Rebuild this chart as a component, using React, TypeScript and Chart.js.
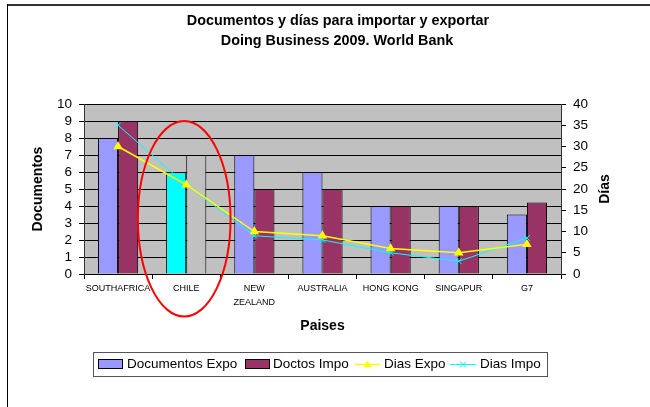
import React, { useEffect, useRef } from "react";
import { Chart, registerables } from "chart.js";

Chart.register(...registerables);

const FONT = "'Liberation Sans', Arial, Helvetica, sans-serif";

const titleLines = ["Documentos y días para importar y exportar", "Doing Business 2009. World Bank"];
const categories: (string | string[])[] = ["SOUTHAFRICA", "CHILE", ["NEW", "ZEALAND"], "AUSTRALIA", "HONG KONG", "SINGAPUR", "G7"];
const docsExpo = [8, 6, 7, 6, 4, 4, 3.5];
const docsImpo = [9, 7, 5, 5, 4, 4, 4.2];
const diasExpo = [30, 21, 10, 9, 6, 5, 7];
const diasImpo = [35, 21, 9, 8, 5, 3, 8.5];
const seriesNames = ["Documentos Expo", "Doctos Impo", "Dias Expo", "Dias Impo"];
const expoColors = ["#9999FF", "#00FFFF", "#9999FF", "#9999FF", "#9999FF", "#9999FF", "#9999FF"];
const impoColors = ["#993366", "#C0C0C0", "#993366", "#993366", "#993366", "#993366", "#993366"];
const xTitle = "Paises";
const yLeftTitle = "Documentos";
const yRightTitle = "Días";

const decor = {
  id: "decor",
  beforeDraw(chart: any) {
    const { ctx, chartArea: a, width, height } = chart;
    ctx.save();
    ctx.fillStyle = "#ffffff";
    ctx.fillRect(0, 0, width, height);
    ctx.fillStyle = "#C0C0C0";
    ctx.fillRect(a.left, a.top, a.right - a.left, a.bottom - a.top);
    // outer frame
    ctx.fillStyle = "#333333";
    ctx.fillRect(7, 4, width - 7, 2);
    ctx.fillStyle = "#000000";
    ctx.fillRect(7, 4, 1, height - 4);
    // title
    ctx.fillStyle = "#000";
    ctx.font = `bold 14.4px ${FONT}`;
    ctx.textAlign = "center";
    ctx.textBaseline = "middle";
    ctx.fillText(titleLines[0], 338, 21);
    ctx.fillText(titleLines[1], 337, 41);
    ctx.restore();
  },
  afterDatasetsDraw(chart: any) {
    const { ctx, scales } = chart;
    const x = scales.x;
    const y = scales.y;
    const cx = x.getPixelForValue(1) - 2;
    const top = y.getPixelForValue(9);
    const bottom = y.getPixelForValue(-2.5);
    const rx = 0.68 * (x.getPixelForValue(1) - x.getPixelForValue(0));
    ctx.save();
    ctx.strokeStyle = "#FF0000";
    ctx.lineWidth = 2;
    ctx.beginPath();
    ctx.ellipse(cx, (top + bottom) / 2, rx, (bottom - top) / 2, 0, 0, Math.PI * 2);
    ctx.stroke();
    ctx.restore();
  },
  afterDraw(chart: any) {
    const { ctx } = chart;
    const a = chart.chartArea;
    ctx.save();
    // right axis title
    ctx.fillStyle = "#000";
    ctx.font = `bold 14px ${FONT}`;
    ctx.textAlign = "center";
    ctx.textBaseline = "middle";
    ctx.translate(605, (a.top + a.bottom) / 2);
    ctx.rotate(-Math.PI / 2);
    ctx.fillText(yRightTitle, 0, 0);
    ctx.restore();

    // legend
    ctx.save();
    ctx.strokeStyle = "#555";
    ctx.lineWidth = 1;
    ctx.strokeRect(93.5, 352.5, 454, 24);
    const cy = 364.5;
    const starts = [98, 245, 355, 450];
    ctx.font = `13.5px ${FONT}`;
    ctx.textBaseline = "middle";
    ctx.textAlign = "left";
    // bar swatches
    [["#9999FF", 0], ["#993366", 1]].forEach(([c, i]: any) => {
      ctx.fillStyle = c;
      ctx.fillRect(starts[i], 359, 25, 10);
      ctx.strokeStyle = "#000";
      ctx.strokeRect(starts[i] + 0.5, 359.5, 24, 9);
    });
    // line swatches
    ctx.strokeStyle = "#FFFF00";
    ctx.lineWidth = 1.5;
    ctx.beginPath();
    ctx.moveTo(starts[2], cy);
    ctx.lineTo(starts[2] + 25, cy);
    ctx.stroke();
    ctx.fillStyle = "#FFFF00";
    ctx.beginPath();
    const tx = starts[2] + 12.5;
    ctx.moveTo(tx, cy - 4);
    ctx.lineTo(tx + 4, cy + 3);
    ctx.lineTo(tx - 4, cy + 3);
    ctx.closePath();
    ctx.fill();
    ctx.strokeStyle = "#00FFFF";
    ctx.lineWidth = 1;
    ctx.beginPath();
    ctx.moveTo(starts[3], cy);
    ctx.lineTo(starts[3] + 26, cy);
    const kx = starts[3] + 13;
    ctx.moveTo(kx - 3, cy - 3);
    ctx.lineTo(kx + 3, cy + 3);
    ctx.moveTo(kx + 3, cy - 3);
    ctx.lineTo(kx - 3, cy + 3);
    ctx.stroke();
    ctx.fillStyle = "#000";
    const textX = [127, 273, 384, 480];
    seriesNames.forEach((n, i) => ctx.fillText(n, textX[i], cy));
    ctx.restore();
  },
};

export default function App() {
  const ref = useRef<HTMLCanvasElement>(null);
  useEffect(() => {
    if (!ref.current) return;
    const chart = new Chart(ref.current, {
      type: "bar",
      data: {
        labels: categories,
        datasets: [
          {
            type: "line",
            label: seriesNames[2],
            data: diasExpo,
            yAxisID: "y1",
            borderColor: "#FFFF00",
            backgroundColor: "#FFFF00",
            borderWidth: 1.5,
            pointStyle: "triangle",
            pointRadius: 4,
            pointBackgroundColor: "#FFFF00",
            pointBorderColor: "#FFFF00",
            tension: 0,
            order: 0,
          } as any,
          {
            type: "line",
            label: seriesNames[3],
            data: diasImpo,
            yAxisID: "y1",
            borderColor: "#00FFFF",
            backgroundColor: "#00FFFF",
            borderWidth: 1,
            pointStyle: "crossRot",
            pointRadius: 4,
            pointBorderColor: "#00FFFF",
            pointBorderWidth: 1,
            tension: 0,
            order: 1,
          } as any,
          {
            type: "bar",
            label: seriesNames[0],
            data: docsExpo,
            yAxisID: "y",
            backgroundColor: expoColors,
            borderColor: "#000",
            borderWidth: 1,
            barPercentage: 1,
            categoryPercentage: 0.59,
            order: 2,
          } as any,
          {
            type: "bar",
            label: seriesNames[1],
            data: docsImpo,
            yAxisID: "y",
            backgroundColor: impoColors,
            borderColor: "#000",
            borderWidth: 1,
            barPercentage: 1,
            categoryPercentage: 0.59,
            order: 2,
          } as any,
        ],
      },
      options: {
        responsive: false,
        animation: false,
        layout: { padding: { left: 30, right: 0, top: 104, bottom: 60 } },
        plugins: { legend: { display: false }, tooltip: { enabled: false }, title: { display: false } },
        scales: {
          x: {
            type: "category",
            offset: true,
            grid: { offset: true, drawOnChartArea: false, drawTicks: true, tickLength: 5, color: "#000" },
            border: { display: true, color: "#000" },
            ticks: {
              font: { size: 9, family: FONT, lineHeight: 1.5 },
              color: "#000",
              maxRotation: 0,
              minRotation: 0,
              autoSkip: false,
              padding: 3,
            },
            title: {
              display: true,
              text: xTitle,
              color: "#000",
              font: { size: 14, weight: "bold", family: FONT },
              padding: { top: 0, bottom: 12 },
            },
            afterFit: (s: any) => {
              s.height = 73;
            },
          },
          y: {
            type: "linear",
            position: "left",
            min: 0,
            max: 10,
            ticks: { stepSize: 1, autoSkip: false, color: "#000", padding: 7, font: { size: 13.5, family: FONT } },
            grid: { color: "#000", tickLength: 5, lineWidth: 1 },
            border: { display: true, color: "#333" },
            title: {
              display: true,
              text: yLeftTitle,
              color: "#000",
              font: { size: 14, weight: "bold", family: FONT },
              padding: 0,
            },
            afterFit: (s: any) => {
              s.width = 54;
            },
          },
          y1: {
            type: "linear",
            position: "right",
            min: 0,
            max: 40,
            ticks: { stepSize: 5, autoSkip: false, color: "#000", padding: 7, font: { size: 13.5, family: FONT } },
            grid: { drawOnChartArea: false, color: "#000", tickLength: 5 },
            border: { display: true, color: "#333" },
            afterFit: (s: any) => {
              s.width = 89;
            },
          },
        },
      } as any,
      plugins: [decor],
    });
    return () => chart.destroy();
  }, []);
  return (
    <div style={{ position: "absolute", left: 0, top: 0, width: 650, height: 407 }}>
      <canvas ref={ref} width={650} height={407} style={{ display: "block" }} />
    </div>
  );
}
